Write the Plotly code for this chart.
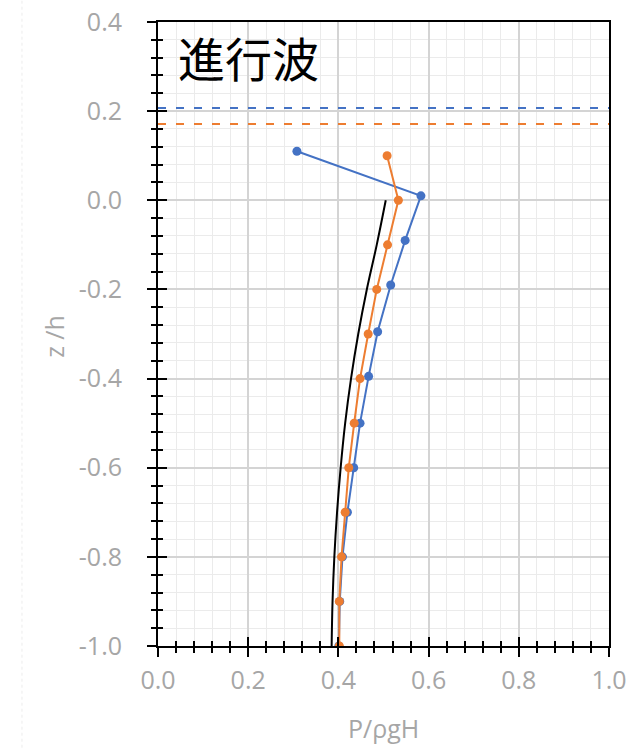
import plotly.graph_objects as go

# ---- data ----
blue_x = [0.308, 0.583, 0.548, 0.516, 0.487, 0.467, 0.448, 0.434, 0.420, 0.409, 0.403, 0.401]
blue_z = [0.11, 0.01, -0.09, -0.19, -0.295, -0.395, -0.5, -0.6, -0.7, -0.8, -0.9, -1.0]
orange_x = [0.508, 0.533, 0.509, 0.485, 0.466, 0.448, 0.435, 0.423, 0.415, 0.407, 0.402, 0.402]
orange_z = [0.10, 0.0, -0.1, -0.2, -0.3, -0.4, -0.5, -0.6, -0.7, -0.8, -0.9, -1.0]
theory_x = [0.505, 0.485, 0.463, 0.444, 0.428, 0.415, 0.405, 0.397, 0.391, 0.387, 0.385]
theory_z = [0.0, -0.1, -0.2, -0.3, -0.4, -0.5, -0.6, -0.7, -0.8, -0.9, -1.0]
blue_level = 0.207
orange_level = 0.171
x_ticks = [0.0, 0.2, 0.4, 0.6, 0.8, 1.0]
y_ticks = [0.4, 0.2, 0.0, -0.2, -0.4, -0.6, -0.8, -1.0]
title_text = "進行波"
x_title = "P/ρgH"
y_title = "z /h"

BLUE = "#4472C4"
ORANGE = "#ED7D31"
GREY_TXT = "#a6a6a6"
FONT = "Open Sans, Liberation Sans, sans-serif"

fig = go.Figure()

fig.add_trace(go.Scatter(x=[0, 1], y=[blue_level, blue_level], mode="lines",
                         line=dict(color=BLUE, width=2, dash="8px,10px"), showlegend=False))
fig.add_trace(go.Scatter(x=[0, 1], y=[orange_level, orange_level], mode="lines",
                         line=dict(color=ORANGE, width=2, dash="8px,10px"), showlegend=False))
fig.add_trace(go.Scatter(x=theory_x, y=theory_z, mode="lines",
                         line=dict(color="black", width=2, shape="spline"), showlegend=False))
fig.add_trace(go.Scatter(x=blue_x, y=blue_z, mode="lines+markers",
                         line=dict(color=BLUE, width=2), marker=dict(color=BLUE, size=9),
                         showlegend=False))
fig.add_trace(go.Scatter(x=orange_x, y=orange_z, mode="lines+markers",
                         line=dict(color=ORANGE, width=2), marker=dict(color=ORANGE, size=9),
                         showlegend=False))
# invisible trace for the overlay axes (inside half of crossing ticks)
fig.add_trace(go.Scatter(x=[0.5], y=[0], xaxis="x2", yaxis="y2", mode="markers",
                         marker=dict(opacity=0), showlegend=False, hoverinfo="skip"))

tickfont = dict(family=FONT, size=25, color=GREY_TXT)

fig.update_layout(
    width=631, height=748,
    margin=dict(l=158, r=22, t=22, b=102),
    paper_bgcolor="white", plot_bgcolor="white",
    xaxis=dict(range=[0, 1.0], tickvals=x_ticks, ticktext=[f"{v:.1f}" for v in x_ticks],
               tickfont=tickfont, ticks="outside", ticklen=9, tickwidth=2, tickcolor="black",
               showline=True, linecolor="black", linewidth=2, mirror=True, automargin=False,
               showgrid=True, gridcolor="#d4d4d4", gridwidth=1.5, zeroline=False,
               ticklabelstandoff=2,
               minor=dict(dtick=0.04, tick0=0, ticks="outside", ticklen=5, tickwidth=1.5,
                          tickcolor="black", showgrid=True, gridcolor="#ebebeb", gridwidth=1)),
    yaxis=dict(range=[-1.0, 0.4], tickvals=y_ticks, ticktext=[f"{v:.1f}" for v in y_ticks],
               tickfont=tickfont, ticks="outside", ticklen=9, tickwidth=2, tickcolor="black",
               showline=True, linecolor="black", linewidth=2, mirror=True, automargin=False,
               showgrid=True, gridcolor="#d4d4d4", gridwidth=1.5, zeroline=False,
               ticklabelstandoff=20,
               minor=dict(dtick=0.04, tick0=0, ticks="outside", ticklen=5, tickwidth=1.5,
                          tickcolor="black", showgrid=True, gridcolor="#ebebeb", gridwidth=1)),
    xaxis2=dict(overlaying="x", matches="x", range=[0, 1.0], tickvals=x_ticks,
                showticklabels=False, ticks="inside", ticklen=9, tickwidth=2, tickcolor="black",
                showgrid=False, zeroline=False, showline=False, automargin=False,
                minor=dict(dtick=0.04, tick0=0, ticks="inside", ticklen=5, tickwidth=1.5,
                           tickcolor="black", showgrid=False)),
    yaxis2=dict(overlaying="y", matches="y", range=[-1.0, 0.4], tickvals=y_ticks,
                showticklabels=False, ticks="inside", ticklen=9, tickwidth=2, tickcolor="black",
                showgrid=False, zeroline=False, showline=False, automargin=False,
                minor=dict(dtick=0.04, tick0=0, ticks="inside", ticklen=5, tickwidth=1.5,
                           tickcolor="black", showgrid=False)),
    annotations=[
        dict(text=title_text, x=0.04, y=0.322, xref="x", yref="y", xanchor="left",
             yanchor="middle", showarrow=False,
             font=dict(family="Noto Sans CJK JP", size=47, color="black")),
        dict(text=x_title, x=0.5, y=-0.131, xref="paper", yref="paper", xanchor="center",
             yanchor="middle", showarrow=False,
             font=dict(family=FONT, size=25, color=GREY_TXT)),
        dict(text=y_title, x=-0.2306, y=0.497, xref="paper", yref="paper", xanchor="center",
             yanchor="middle", showarrow=False, textangle=-90,
             font=dict(family=FONT, size=25, color=GREY_TXT)),
    ],
    shapes=[
        dict(type="line", xref="paper", yref="paper", x0=-0.3016, x1=-0.3016, y0=-0.163, y1=1.035,
             line=dict(color="#ececec", width=1, dash="dot")),
    ],
)

fig.write_html("out.html")
